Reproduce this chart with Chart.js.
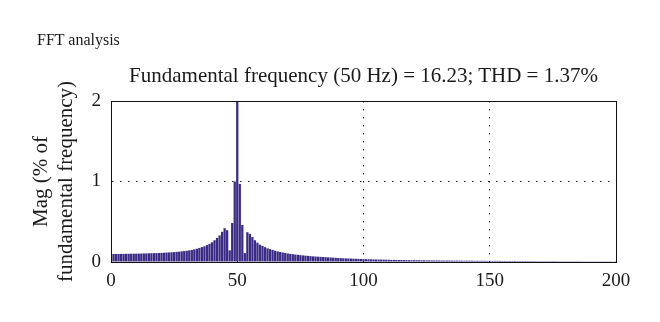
<!DOCTYPE html>
<html>
<head>
<meta charset="utf-8">
<script src="https://cdn.jsdelivr.net/npm/chart.js@4/dist/chart.umd.min.js"></script>
<style>
    html, body { margin: 0; padding: 0; background: #fff; }
    #wrap { position: relative; width: 660px; height: 322px; }
    .txt { position: absolute; font-family: 'Liberation Serif', serif; color: #1a1a1a; white-space: nowrap; }
    #mainTitle { left: 37px; top: 31px; font-size: 16px; }
    #subTitle { left: 111px; width: 505px; top: 63px; font-size: 21px; text-align: center; }
</style>
</head>
<body>
<div id="wrap">
    <canvas id="fftChart" width="660" height="322"></canvas>
    <div class="txt" id="mainTitle">FFT analysis</div>
    <div class="txt" id="subTitle">Fundamental frequency (50 Hz) = 16.23; THD = 1.37%</div>
</div>
<script>
// frequency bins (Hz)
const freqs = Array.from({ length: 201 }, (_, i) => i);

// magnitude, % of fundamental (bin 50 is the fundamental itself, off scale)
const mag0to49 = [
    0.100, 0.100, 0.100, 0.100, 0.101, 0.101, 0.102, 0.102, 0.103, 0.103,
    0.104, 0.104, 0.105, 0.106, 0.107, 0.108, 0.109, 0.110, 0.111, 0.112,
    0.113, 0.115, 0.117, 0.119, 0.121, 0.123, 0.126, 0.129, 0.132, 0.136,
    0.140, 0.145, 0.150, 0.157, 0.165, 0.175, 0.185, 0.195, 0.210, 0.225,
    0.245, 0.270, 0.300, 0.330, 0.375, 0.420, 0.395, 0.145, 0.485, 1.000
];
const mag50to99 = [
    100.0, 0.970, 0.460, 0.110, 0.370, 0.350, 0.310, 0.270, 0.240, 0.215,
    0.200, 0.185, 0.170, 0.160, 0.150, 0.140, 0.132, 0.125, 0.118, 0.112,
    0.106, 0.101, 0.097, 0.093, 0.089, 0.085, 0.082, 0.079, 0.076, 0.073,
    0.070, 0.068, 0.066, 0.064, 0.062, 0.060, 0.058, 0.056, 0.054, 0.052,
    0.050, 0.048, 0.046, 0.045, 0.044, 0.043, 0.041, 0.040, 0.039, 0.038
];
const mag100to200 = [
    0.036, 0.035, 0.034, 0.033, 0.032, 0.031, 0.030, 0.030, 0.029, 0.028,
    0.028, 0.026, 0.026, 0.025, 0.025, 0.024, 0.024, 0.023, 0.023, 0.022,
    0.022, 0.022, 0.021, 0.021, 0.021, 0.020, 0.020, 0.020, 0.019, 0.019,
    0.019, 0.018, 0.018, 0.018, 0.018, 0.017, 0.017, 0.017, 0.017, 0.016,
    0.016, 0.016, 0.016, 0.016, 0.015, 0.015, 0.015, 0.015, 0.015, 0.014,
    0.014, 0.014, 0.014, 0.014, 0.014, 0.013, 0.013, 0.013, 0.013, 0.013,
    0.013, 0.012, 0.012, 0.012, 0.012, 0.012, 0.012, 0.012, 0.011, 0.011,
    0.011, 0.011, 0.011, 0.011, 0.011, 0.011, 0.011, 0.010, 0.010, 0.010,
    0.010, 0.010, 0.010, 0.010, 0.010, 0.010, 0.010, 0.009, 0.009, 0.009,
    0.009, 0.009, 0.009, 0.009, 0.009, 0.009, 0.009, 0.009, 0.009, 0.008,
    0.008
];
const mags = mag0to49.concat(mag50to99, mag100to200);

const xTicks = [0, 50, 100, 150, 200];
const yTicks = [0, 1, 2];

const serif = "'Liberation Serif', serif";

// box around the plot area, like the matlab axes
const frameBox = {
    id: 'frameBox',
    afterDraw(chart) {
        const { ctx, chartArea: a } = chart;
        ctx.save();
        ctx.strokeStyle = '#111';
        ctx.lineWidth = 1;
        ctx.strokeRect(a.left + 0.5, a.top + 0.5, a.right - a.left, a.bottom - a.top);
        ctx.restore();
    }
};

document.addEventListener('DOMContentLoaded', function() {
    const ctx = document.getElementById('fftChart').getContext('2d');

    new Chart(ctx, {
        type: 'bar',
        data: {
            labels: freqs,
            datasets: [{
                data: mags,
                backgroundColor: '#3b2b85',
                borderWidth: 0,
                barPercentage: 0.9,
                categoryPercentage: 1.0,
                clip: 0
            }]
        },
        options: {
            responsive: false,
            animation: false,
            layout: {
                padding: { top: 101, right: 44, left: 29, bottom: 0 }
            },
            plugins: {
                legend: { display: false },
                tooltip: { enabled: false }
            },
            scales: {
                x: {
                    type: 'linear',
                    min: 0,
                    max: 200,
                    offset: false,
                    afterBuildTicks: s => { s.ticks = xTicks.map(v => ({ value: v })); },
                    afterFit: s => { s.height = 60; },
                    ticks: {
                        color: '#1a1a1a',
                        font: { family: serif, size: 19 },
                        padding: 8,
                        maxRotation: 0
                    },
                    grid: {
                        offset: false,
                        drawTicks: false,
                        color: c => (c.tick && c.tick.value > 0 && c.tick.value < 200) ? '#222' : 'rgba(0,0,0,0)',
                        lineWidth: 1
                    },
                    border: { display: true, color: '#111', dash: [1.5, 6.5] }
                },
                y: {
                    min: 0,
                    max: 2,
                    afterBuildTicks: s => { s.ticks = yTicks.map(v => ({ value: v })); },
                    afterFit: s => { s.width = 82; },
                    ticks: {
                        color: '#1a1a1a',
                        font: { family: serif, size: 19 },
                        padding: 10
                    },
                    grid: {
                        drawTicks: false,
                        color: c => (c.tick && c.tick.value > 0 && c.tick.value < 2) ? '#222' : 'rgba(0,0,0,0)',
                        lineWidth: 1
                    },
                    border: { display: true, color: '#111', dash: [1.5, 6.5] },
                    title: {
                        display: true,
                        text: ['Mag (% of', 'fundamental frequency)'],
                        color: '#1a1a1a',
                        font: { family: serif, size: 21, lineHeight: 1.2 },
                        padding: 0
                    }
                }
            }
        },
        plugins: [frameBox]
    });
});
</script>
</body>
</html>
